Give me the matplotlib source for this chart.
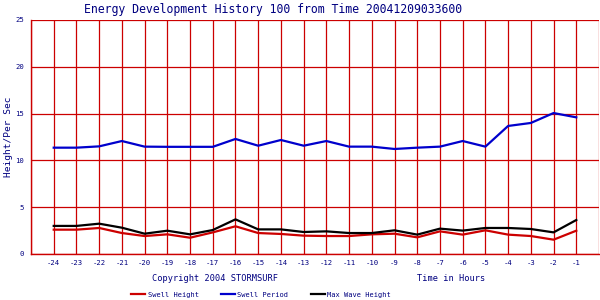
import matplotlib
matplotlib.use("Agg")
import matplotlib.pyplot as plt
import numpy as np

hours = list(range(-24, 0))
swell_height = [2.6, 2.6, 2.78, 2.24, 1.92, 2.1, 1.74, 2.31, 2.96, 2.24, 2.14, 1.96,
                1.92, 1.92, 2.1, 2.17, 1.78, 2.42, 2.07, 2.53, 2.07, 1.92, 1.53, 2.49]
swell_period = [11.36, 11.36, 11.5, 12.07, 11.47, 11.45, 11.45, 11.45, 12.29, 11.57, 12.18, 11.57,
                12.07, 11.47, 11.47, 11.22, 11.36, 11.47, 12.07, 11.47, 13.68, 14.0, 15.06, 14.6]
max_wave = [3.0, 3.0, 3.24, 2.81, 2.17, 2.49, 2.1, 2.56, 3.7, 2.63, 2.63, 2.35,
            2.42, 2.24, 2.24, 2.53, 2.07, 2.71, 2.5, 2.78, 2.78, 2.67, 2.31, 3.63]
tick_hours = list(range(-25, 1))
tick_labels = [str(h) if -24 <= h <= -1 else "" for h in tick_hours]

navy = "#000080"
grid_red = "#CC0000"
plt.rcParams['font.family'] = ['DejaVu Sans Mono']

fig = plt.figure(figsize=(6, 3), dpi=100)
ax = fig.add_axes([31/600, 46/300, 568/600, 234/300])

ax.plot(hours, swell_height, color="#CC0000", lw=1.6, label="Swell Height")
ax.plot(hours, swell_period, color="#0000CC", lw=1.6, label="Swell Period")
ax.plot(hours, max_wave, color="black", lw=1.6, label="Max Wave Height")

ax.set_xlim(-25, 0)
ax.set_ylim(0, 25)
ax.set_xticks(tick_hours)
ax.set_xticklabels(tick_labels)
ax.set_yticks([0, 5, 10, 15, 20, 25])
ax.grid(True, color=grid_red, lw=0.9)
ax.set_axisbelow(True)
ax.tick_params(axis="both", length=0, colors=navy, labelsize=5.2)
ax.tick_params(axis="x", pad=4)
ax.tick_params(axis="y", pad=5)
for s in ["left", "bottom"]:
    ax.spines[s].set_color(grid_red)
    ax.spines[s].set_linewidth(1.0)
for s in ["top", "right"]:
    ax.spines[s].set_visible(False)

ax.set_ylabel("Height/Per Sec", color=navy, fontsize=6.8, labelpad=2)
fig.suptitle("Energy Development History 100 from Time 20041209033600",
             x=0.455, y=0.99, color=navy, fontsize=8.3)
fig.text(0.358, 0.073, "Copyright 2004 STORMSURF", color=navy, fontsize=6.2, ha="center", va="center")
fig.text(0.752, 0.073, "Time in Hours", color=navy, fontsize=6.2, ha="center", va="center")

leg = fig.legend(loc="center", bbox_to_anchor=(0.435, 0.018), ncol=3, frameon=False,
                 fontsize=5, handlelength=2.0, handletextpad=0.4, columnspacing=3.2)
for t in leg.get_texts():
    t.set_color(navy)

fig.savefig("out.png", dpi=100, facecolor="white")
